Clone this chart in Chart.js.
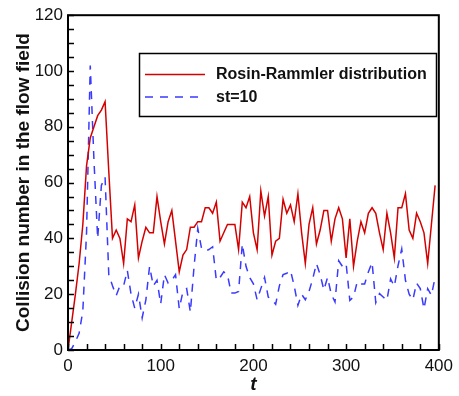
<!DOCTYPE html>
<html>
<head>
<meta charset="utf-8">
<script src="https://cdn.jsdelivr.net/npm/chart.js@4/dist/chart.umd.min.js"></script>
<style>
  html, body { margin: 0; padding: 0; background: #ffffff; }
  #wrap { width: 459px; height: 396px; }
</style>
</head>
<body>
<div id="wrap"><canvas id="c" width="459" height="396"></canvas></div>
<script>
// ---- Data ----
const timeSteps = [
  0, 4, 8, 12, 16, 20, 24, 28, 32, 36, 40, 44, 48, 52, 56, 60, 64, 68, 72, 76,
  80, 84, 88, 92, 96, 100, 104, 108, 112, 116, 120, 124, 128, 132, 136, 140, 144, 148, 152, 156,
  160, 164, 168, 172, 176, 180, 184, 188, 192, 196, 200, 204, 208, 212, 216, 220, 224, 228, 232, 236,
  240, 244, 248, 252, 256, 260, 264, 268, 272, 276, 280, 284, 288, 292, 296, 300, 304, 308, 312, 316,
  320, 324, 328, 332, 336, 340, 344, 348, 352, 356, 360, 364, 368, 372, 376, 380, 384, 388, 392, 396
];
const rosinRammler = [
  0, 10, 20, 31, 45, 66, 76, 80, 84, 86, 89, 64, 40, 43, 40, 31, 47, 46, 52, 33,
  39, 44, 42, 42, 55, 46, 38, 46, 50, 39, 28, 34, 36, 44, 44, 46, 46, 51, 51, 49,
  53, 39, 42, 45, 45, 45, 36, 53, 51, 55, 42, 36, 57, 48, 55, 34, 39, 40, 54, 49,
  52, 46, 56, 42, 31, 45, 51, 38, 43, 50, 50, 39, 47, 51, 47, 33, 47, 30, 39, 46,
  42, 49, 51, 49, 42, 36, 49, 42, 33, 51, 51, 56, 43, 40, 49, 46, 42, 31, 45, 59
];
const st10 = [
  0, 0.5, 3, 6, 14, 42, 102, 68, 40, 59, 62, 27, 23, 19.5, 23, 23, 28.5, 20, 15, 20,
  11.5, 18, 30, 23, 25, 16.5, 27, 24, 25, 27, 14.8, 21, 22, 13.6, 30, 43.5, 36.5, 35.5, 36, 37,
  25, 26, 28, 27, 20.4, 20.4, 21, 38, 30, 26, 23.7, 18, 22, 26, 19, 18, 16.4, 23, 27, 27.5,
  28.5, 23, 16, 20, 18, 21, 25.5, 31, 27, 21.5, 26, 20, 17.2, 32, 30, 31, 17.8, 19, 24.5, 23.7,
  23.7, 28, 31.4, 17, 20.2, 19, 17.8, 25.5, 22.8, 30.2, 36.2, 25, 20, 18, 24, 22, 14.8, 22, 19.6, 26
];
const seriesNames = ["Rosin-Rammler distribution", "st=10"];
const xTickLabels = [0, 100, 200, 300, 400];
const yTickLabels = [0, 20, 40, 60, 80, 100, 120];
const axisTitles = { x: "t", y: "Collision number in the flow field" };

// ---- Chart ----
const RED = "#d40000";
const BLUE = "#3a3aff";

const toPoints = (xs, ys) => xs.map((x, i) => ({ x: x, y: ys[i] }));

const framePlugin = {
  id: "frame",
  afterDraw(chart) {
    const ctx = chart.ctx;
    const a = chart.chartArea;
    const xs = chart.scales.x, ys = chart.scales.y;
    ctx.save();
    ctx.strokeStyle = "#000";
    ctx.lineWidth = 1.5;
    // inward ticks, left axis (every 5)
    ctx.beginPath();
    for (let v = ys.min; v <= ys.max; v += 5) {
      const py = Math.round(ys.getPixelForValue(v)) + 0.5;
      ctx.moveTo(a.left, py);
      ctx.lineTo(a.left + 6, py);
    }
    // inward ticks, bottom axis (every 20)
    for (let v = xs.min; v <= xs.max; v += 20) {
      const px = Math.round(xs.getPixelForValue(v)) + 0.5;
      ctx.moveTo(px, a.bottom);
      ctx.lineTo(px, a.bottom - 6);
    }
    ctx.stroke();
    ctx.lineWidth = 2;
    ctx.strokeRect(a.left, a.top, a.right - a.left, a.bottom - a.top);
    ctx.restore();
  }
};

const legendPlugin = {
  id: "boxLegend",
  afterDraw(chart) {
    const ctx = chart.ctx;
    const bx = 139.5, by = 53.5, bw = 297, bh = 63;
    ctx.save();
    ctx.fillStyle = "#fff";
    ctx.fillRect(bx, by, bw, bh);
    ctx.strokeStyle = "#000";
    ctx.lineWidth = 1.5;
    ctx.strokeRect(bx, by, bw, bh);
    const rows = [74.5, 97];
    chart.data.datasets.forEach((ds, i) => {
      const y = rows[i];
      ctx.beginPath();
      ctx.strokeStyle = ds.borderColor;
      ctx.lineWidth = ds.borderWidth;
      ctx.setLineDash(ds.borderDash || []);
      ctx.moveTo(145, y);
      ctx.lineTo(205, y);
      ctx.stroke();
      ctx.setLineDash([]);
      ctx.fillStyle = "#111";
      ctx.font = "bold 16px 'Liberation Sans', Arial, sans-serif";
      ctx.textBaseline = "middle";
      ctx.textAlign = "left";
      ctx.fillText(ds.label, 216, y + 0.5);
    });
    ctx.restore();
  }
};

new Chart(document.getElementById("c"), {
  type: "line",
  data: {
    datasets: [
      {
        label: seriesNames[0],
        data: toPoints(timeSteps, rosinRammler),
        borderColor: RED,
        borderWidth: 1.5,
        pointRadius: 0,
        tension: 0,
        fill: false
      },
      {
        label: seriesNames[1],
        data: toPoints(timeSteps, st10),
        borderColor: BLUE,
        borderWidth: 1.5,
        borderDash: [8, 7],
        pointRadius: 0,
        tension: 0,
        fill: false
      }
    ]
  },
  options: {
    responsive: false,
    animation: false,
    devicePixelRatio: 1,
    layout: { padding: { left: 0, top: 13, right: 17, bottom: 0 } },
    plugins: { legend: { display: false }, tooltip: { enabled: false } },
    scales: {
      x: {
        type: "linear",
        min: xTickLabels[0],
        max: xTickLabels[xTickLabels.length - 1],
        afterBuildTicks: (s) => { s.ticks = xTickLabels.map(v => ({ value: v })); },
        afterFit: (s) => { s.height = 46; },
        grid: { display: false, drawTicks: false },
        border: { display: false },
        ticks: {
          padding: 6,
          color: "#111",
          font: { family: "'Liberation Sans', Arial, sans-serif", size: 17 },
          maxRotation: 0
        },
        title: {
          display: true,
          text: axisTitles.x,
          color: "#111",
          font: { family: "'Liberation Sans', Arial, sans-serif", size: 19, weight: "bold", style: "italic" },
          padding: { top: 0, bottom: 0 }
        }
      },
      y: {
        min: yTickLabels[0],
        max: yTickLabels[yTickLabels.length - 1],
        afterBuildTicks: (s) => { s.ticks = yTickLabels.map(v => ({ value: v })); },
        afterFit: (s) => { s.width = 68; },
        grid: { display: false, drawTicks: false },
        border: { display: false },
        ticks: {
          padding: 5,
          color: "#111",
          font: { family: "'Liberation Sans', Arial, sans-serif", size: 17 }
        },
        title: {
          display: true,
          text: axisTitles.y,
          color: "#111",
          font: { family: "'Liberation Sans', Arial, sans-serif", size: 19, weight: "bold" },
          padding: { top: 12, bottom: 0 }
        }
      }
    }
  },
  plugins: [framePlugin, legendPlugin]
});
</script>
</body>
</html>
